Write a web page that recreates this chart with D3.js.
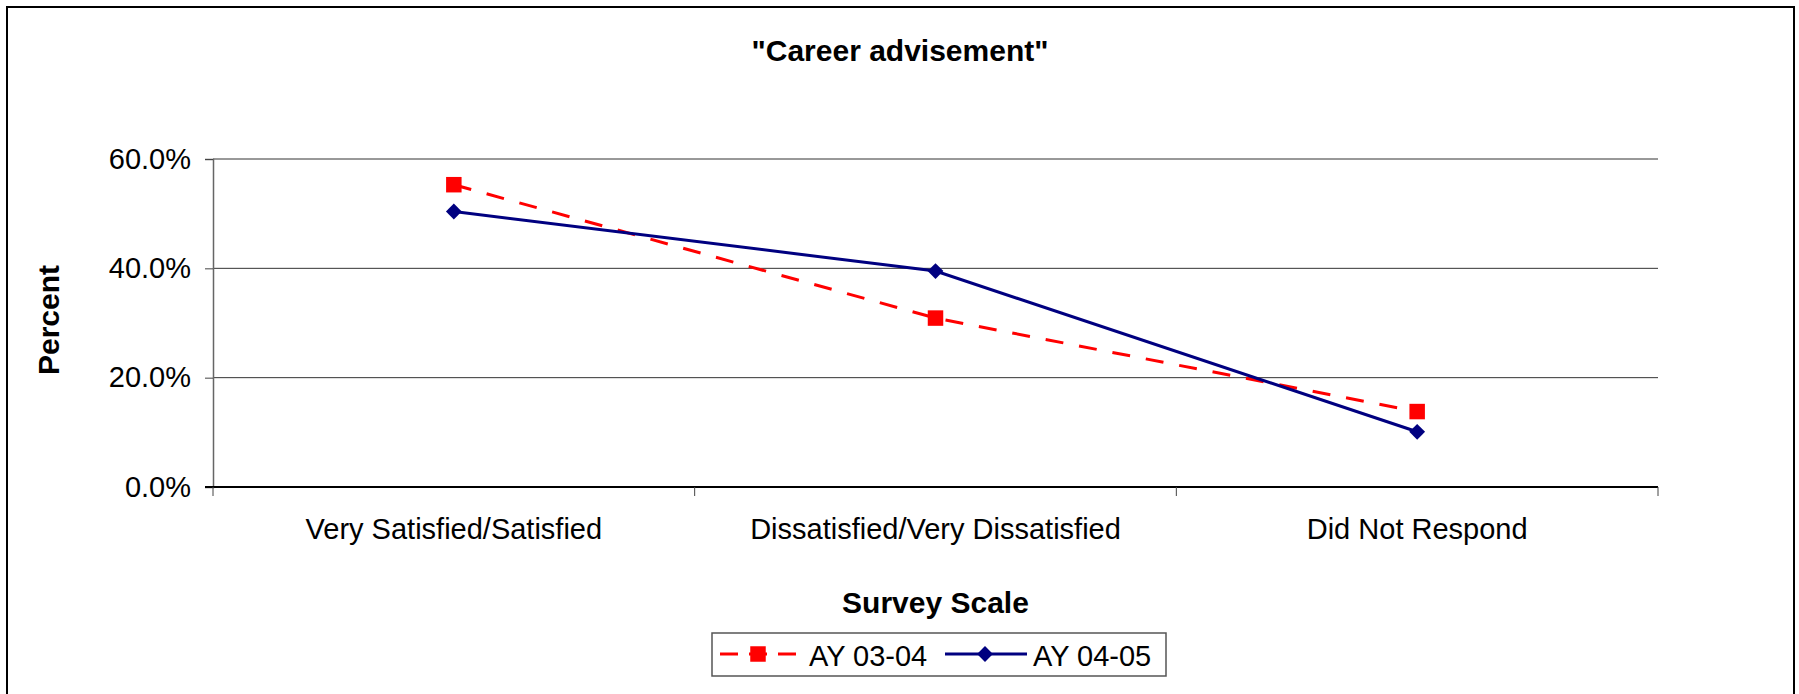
<!DOCTYPE html>
<html>
<head>
<meta charset="utf-8">
<script src="https://cdn.jsdelivr.net/npm/d3@7"></script>
<style>
  body { margin: 0; background: #fff; }
  text { font-family: Arial, "Liberation Sans", sans-serif; }
</style>
</head>
<body>
<div id="chart"></div>
<script>
// chart data
var categories = ["Very Satisfied/Satisfied", "Dissatisfied/Very Dissatisfied", "Did Not Respond"];
var seriesNames = ["AY 03-04", "AY 04-05"];
var ay0304 = [0.553, 0.309, 0.138];
var ay0405 = [0.504, 0.395, 0.101];
var yTicks = [0, 0.2, 0.4, 0.6];

var width = 1799, height = 694;
var plot = {left: 213, right: 1658, top: 159, bottom: 487};

var svg = d3.select("#chart").append("svg")
    .attr("width", width)
    .attr("height", height);

// outer frame
svg.append("rect")
    .attr("x", 7).attr("y", 7)
    .attr("width", 1787).attr("height", 700)
    .attr("fill", "none")
    .attr("stroke", "#000")
    .attr("stroke-width", 2);

var x = d3.scaleBand()
    .domain(categories)
    .range([plot.left, plot.right])
    .padding(0);

var y = d3.scaleLinear()
    .domain([0, 0.6])
    .range([plot.bottom, plot.top]);

// gridlines
svg.append("g")
    .selectAll("line")
    .data(yTicks.filter(d => d > 0))
    .enter()
    .append("line")
    .attr("x1", plot.left).attr("x2", plot.right)
    .attr("y1", d => y(d)).attr("y2", d => y(d))
    .attr("stroke", "#333")
    .attr("stroke-width", 1);

// y axis
var yAxis = svg.append("g")
    .attr("transform", "translate(" + plot.left + ",0)")
    .call(d3.axisLeft(y).tickValues(yTicks).tickFormat(d3.format(".1%")).tickSize(8).tickPadding(14));
yAxis.select(".domain").attr("stroke", "#666").attr("stroke-width", 1.5);
yAxis.selectAll(".tick line").attr("stroke", "#444");
yAxis.selectAll("text")
    .attr("font-size", "29px")
    .attr("fill", "#000")
    .style("font-family", "Arial, 'Liberation Sans', sans-serif");

// x axis line + category boundary ticks
svg.append("line")
    .attr("x1", plot.left - 8).attr("x2", plot.right)
    .attr("y1", y(0)).attr("y2", y(0))
    .attr("stroke", "#000")
    .attr("stroke-width", 2);

var boundaries = categories.map(c => x(c)).concat([x(categories[categories.length - 1]) + x.bandwidth()]);
svg.append("g")
    .selectAll("line")
    .data(boundaries)
    .enter()
    .append("line")
    .attr("x1", d => d).attr("x2", d => d)
    .attr("y1", y(0)).attr("y2", y(0) + 9)
    .attr("stroke", "#444")
    .attr("stroke-width", 1);

svg.append("g")
    .selectAll("text")
    .data(categories)
    .enter()
    .append("text")
    .attr("x", d => x(d) + x.bandwidth() / 2)
    .attr("y", 539)
    .attr("text-anchor", "middle")
    .attr("font-size", "29px")
    .text(d => d);

// titles
svg.append("text")
    .attr("x", 900).attr("y", 61)
    .attr("text-anchor", "middle")
    .attr("font-size", "30px")
    .attr("font-weight", "bold")
    .text("\"Career advisement\"");

svg.append("text")
    .attr("transform", "translate(59,320) rotate(-90)")
    .attr("text-anchor", "middle")
    .attr("font-size", "30px")
    .attr("font-weight", "bold")
    .text("Percent");

svg.append("text")
    .attr("x", (plot.left + plot.right) / 2).attr("y", 613)
    .attr("text-anchor", "middle")
    .attr("font-size", "30px")
    .attr("font-weight", "bold")
    .text("Survey Scale");

// series
var cx = (d, i) => x(categories[i]) + x.bandwidth() / 2;
var line = d3.line()
    .x(cx)
    .y(d => y(d));

var red = "#ff0000", navy = "#000080";

svg.append("path")
    .datum(ay0304)
    .attr("d", line)
    .attr("fill", "none")
    .attr("stroke", red)
    .attr("stroke-width", 3)
    .attr("stroke-dasharray", "18,16");

svg.append("path")
    .datum(ay0405)
    .attr("d", line)
    .attr("fill", "none")
    .attr("stroke", navy)
    .attr("stroke-width", 3);

var squareSym = d3.symbol().type(d3.symbolSquare).size(240);
var diamondSym = d3.symbol().type(d3.symbolSquare).size(125);

svg.append("g")
    .selectAll("path")
    .data(ay0304)
    .enter()
    .append("path")
    .attr("d", squareSym)
    .attr("transform", (d, i) => "translate(" + cx(d, i) + "," + y(d) + ")")
    .attr("fill", red);

svg.append("g")
    .selectAll("path")
    .data(ay0405)
    .enter()
    .append("path")
    .attr("d", diamondSym)
    .attr("transform", (d, i) => "translate(" + cx(d, i) + "," + y(d) + ") rotate(45)")
    .attr("fill", navy);

// legend
var legend = svg.append("g");
legend.append("rect")
    .attr("x", 712).attr("y", 633)
    .attr("width", 454).attr("height", 43)
    .attr("fill", "#fff")
    .attr("stroke", "#555")
    .attr("stroke-width", 1.5);

var ly = 654;
legend.append("line")
    .attr("x1", 720).attr("x2", 796)
    .attr("y1", ly).attr("y2", ly)
    .attr("stroke", red)
    .attr("stroke-width", 3)
    .attr("stroke-dasharray", "18,11");
legend.append("path")
    .attr("d", squareSym)
    .attr("transform", "translate(758," + ly + ")")
    .attr("fill", red);
legend.append("text")
    .attr("x", 809).attr("y", 666)
    .attr("font-size", "29px")
    .text(seriesNames[0]);

legend.append("line")
    .attr("x1", 945).attr("x2", 1027)
    .attr("y1", ly).attr("y2", ly)
    .attr("stroke", navy)
    .attr("stroke-width", 3);
legend.append("path")
    .attr("d", diamondSym)
    .attr("transform", "translate(985," + ly + ") rotate(45)")
    .attr("fill", navy);
legend.append("text")
    .attr("x", 1033).attr("y", 666)
    .attr("font-size", "29px")
    .text(seriesNames[1]);
</script>
</body>
</html>
